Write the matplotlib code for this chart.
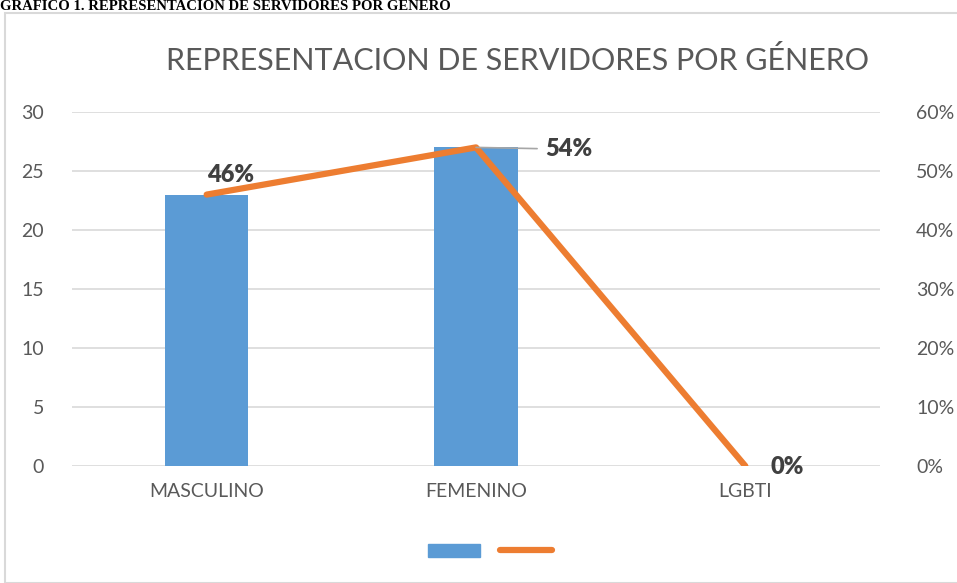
import numpy as np
import matplotlib.pyplot as plt
from matplotlib.patches import Rectangle
from matplotlib.lines import Line2D

categorias = ['MASCULINO', 'FEMENINO', 'LGBTI']
servidores = [23, 27, 0]
porcentaje = [0.46, 0.54, 0.0]
etiquetas = ['46%', '54%', '0%']

azul = '#5B9BD5'
naranja = '#ED7D31'
gris = '#595959'

plt.rcParams['font.family'] = ['Lato', 'DejaVu Sans']

fig = plt.figure(figsize=(9.57, 5.83), dpi=100)
W, H = 957, 583

# marco del grafico
fig.patches.append(Rectangle((5 / W, 0), 1, 1 - 13 / H, transform=fig.transFigure,
                             fill=False, edgecolor='#D9D9D9', linewidth=1.5))

# titulo del documento (cortado arriba en el original)
fig.text(0.0, 1 - 10 / H, 'GRAFICO 1. REPRESENTACION DE SERVIDORES POR GENERO',
         family='Liberation Serif', fontweight='bold', fontsize=10.6, va='baseline', ha='left')

ax = fig.add_axes([72 / W, 1 - 466 / H, (880 - 72) / W, (466 - 112) / H])
x = np.arange(len(categorias))
ax.bar(x, servidores, width=0.31, color=azul, zorder=2)
ax.set_ylim(0, 30)
ax.set_xlim(-0.5, 2.5)
ax.set_yticks(range(0, 31, 5))
ax.set_xticks(x)
ax.set_xticklabels(categorias)
ax.grid(axis='y', color='#D9D9D9', linewidth=1.2, zorder=0)
for s in ax.spines.values():
    s.set_visible(False)
ax.tick_params(length=0, labelsize=14, colors=gris, pad=20)
ax.tick_params(axis='x', pad=12)

ax2 = ax.twinx()
ax2.set_ylim(0, 0.6)
ax2.set_yticks(np.arange(0, 0.61, 0.1))
ax2.set_yticklabels([f'{int(round(v * 100))}%' for v in np.arange(0, 0.61, 0.1)])
for s in ax2.spines.values():
    s.set_visible(False)
ax2.tick_params(length=0, labelsize=14, colors=gris, pad=26)
ax2.plot(x, porcentaje, color=naranja, linewidth=4.5, solid_capstyle='round', zorder=3)

# etiquetas de datos
estilo = dict(fontsize=17, fontweight='heavy', color='#404040')
ax2.annotate(etiquetas[0], (x[0], porcentaje[0]), xytext=(0, 6), textcoords='offset points',
             ha='left', va='bottom', **estilo)
ax2.annotate(etiquetas[1], (x[1], porcentaje[1]), xytext=(50, -1), textcoords='offset points',
             ha='left', va='center',
             arrowprops=dict(arrowstyle='-', color='#A6A6A6', lw=1.2, shrinkA=4, shrinkB=0,
                             relpos=(0, 0.5)), **estilo)
ax2.annotate(etiquetas[2], (x[2], porcentaje[2]), xytext=(18, -1), textcoords='offset points',
             ha='left', va='center', **estilo)

fig.text(517 / W, 1 - 60 / H, 'REPRESENTACION DE SERVIDORES POR GÉNERO',
         fontsize=22, color=gris, ha='center', va='center')

# leyenda sin texto
fig.patches.append(Rectangle((428 / W, 1 - 557 / H), 52 / W, 13 / H,
                             transform=fig.transFigure, color=azul))
fig.lines.append(Line2D([500 / W, 552 / W], [1 - 550 / H, 1 - 550 / H], transform=fig.transFigure,
                        color=naranja, linewidth=4.5, solid_capstyle='round'))

fig.savefig('out.png', dpi=100)
